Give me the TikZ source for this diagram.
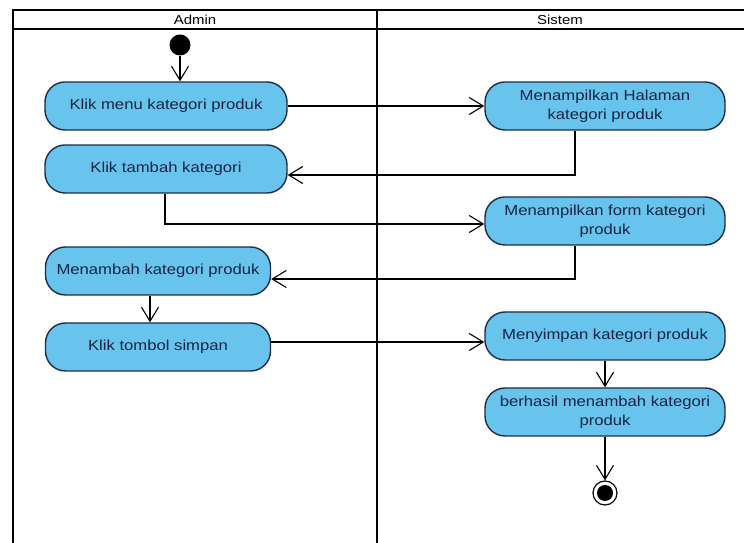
\documentclass[tikz,border=0pt]{standalone}
\usepackage{fontspec}
\setmainfont{Liberation Sans}[FakeStretch=1.15]
\usetikzlibrary{arrows.meta}
\definecolor{actfill}{RGB}{104,196,236}
\definecolor{actline}{RGB}{30,45,70}
\definecolor{acttext}{RGB}{22,36,70}
\tikzset{
  act/.style={draw=actline, line width=1.4pt, fill=actfill, rounded corners=20pt,
    minimum height=48pt, inner sep=0pt, align=center, text=acttext,
    font=\fontsize{14.5}{19}\selectfont},
  flow/.style={line width=1.1pt, -{Straight Barb[length=14pt,width=17pt,line width=1.1pt]}},
  lane/.style={line width=2.6pt, black},
  hdr/.style={font=\fontsize{13}{15}\selectfont, inner sep=0pt}
}
\begin{document}
\begin{tikzpicture}[x=1pt,y=1pt]
\useasboundingbox (0,0) rectangle (744,543);
\fill[white] (0,0) rectangle (744,543);
% swimlane frame
\draw[lane] (13,-5) -- (13,533) -- (750,533);
\draw[lane] (13,514) -- (750,514);
\draw[lane] (377,-5) -- (377,533);
\node[hdr] (hA) at (195,523.5) {Admin};
\node[hdr] (hS) at (560,523.5) {Sistem};
% nodes
\node[circle, fill=black, minimum size=21pt, inner sep=0pt] (start) at (180,498) {};
\node[act, minimum width=242pt] (A1) at (166,437) {Klik menu kategori produk};
\node[act, minimum width=242pt] (A2) at (166,374) {Klik tambah kategori};
\node[act, minimum width=225pt] (A3) at (158,272) {Menambah kategori produk};
\node[act, minimum width=225pt] (A4) at (158,196) {Klik tombol simpan};
\node[act, minimum width=240pt] (S1) at (605,437) {Menampilkan Halaman\\kategori produk};
\node[act, minimum width=240pt] (S2) at (605,322) {Menampilkan form kategori\\produk};
\node[act, minimum width=240pt] (S3) at (605,207) {Menyimpan kategori produk};
\node[act, minimum width=240pt] (S4) at (605,131) {berhasil menambah kategori\\produk};
\node[circle, draw=black, line width=1.2pt, minimum size=24pt, inner sep=0pt] (final) at (605,50) {};
\node[circle, fill=black, minimum size=16pt, inner sep=0pt] (finalin) at (final.center) {};
% connectors
\draw[flow] (start.south) -- (start.south |- A1.north);
\draw[flow] (A1.east) -- (S1.west);
\draw[flow] ([xshift=-30pt]S1.south) |- ([yshift=-6pt]A2.east);
\draw[flow] ([xshift=-1pt]A2.south) |- ([yshift=-3pt]S2.west);
\draw[flow] ([xshift=-30pt]S2.south) |- ([yshift=-8pt]A3.east);
\draw[flow] ([xshift=-8pt]A3.south) -- ([xshift=-8pt]A4.north);
\draw[flow] ([yshift=5pt]A4.east) -- ([yshift=-6pt]S3.west);
\draw[flow] (S3.south) -- (S4.north);
\draw[flow] (S4.south) -- (final.north);
\end{tikzpicture}
\end{document}
